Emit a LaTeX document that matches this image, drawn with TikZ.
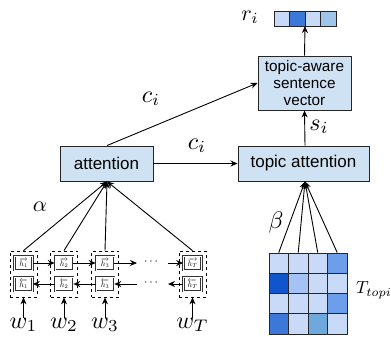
\documentclass[tikz,border=0pt]{standalone}
\usepackage{fontspec}
\newfontfamily\arial{Liberation Sans}
\usetikzlibrary{arrows.meta}
\definecolor{boxblue}{HTML}{CFE2F3}
\definecolor{cl}{HTML}{C9DAF8}
\definecolor{cm}{HTML}{6D9EEB}
\definecolor{cd}{HTML}{1155CC}
\definecolor{cml}{HTML}{A4C2F4}
\definecolor{cmd}{HTML}{3C78D8}
\definecolor{cteal}{HTML}{6FA8DC}
\definecolor{cv}{HTML}{9FC5E8}
\newcommand{\scm}[2][2.4]{\scalebox{#1}{$#2$}}
\begin{document}
\begin{tikzpicture}[x=1pt,y=-1pt,
  box/.style={draw=black!85, fill=boxblue, line width=0.9pt, inner sep=0pt, align=center},
  hbox/.style={draw=black!80, double=white, double distance=0.9pt, line width=0.6pt, minimum width=18pt, minimum height=14pt, inner sep=0pt},
  dbox/.style={draw=black, dashed, line width=0.8pt, minimum width=27pt, minimum height=46pt, inner sep=0pt},
  arr/.style={-{Stealth[length=7pt,width=6pt]}, line width=0.9pt},
  lab/.style={inner sep=0pt},
  cell/.style={draw=black!85, line width=0.8pt, minimum width=19.5pt, minimum height=20.25pt, inner sep=0pt},
  vcell/.style={draw=black!85, line width=0.8pt, minimum width=15.5pt, minimum height=15pt, inner sep=0pt}
]
\useasboundingbox (0,0) rectangle (391,337);

% main boxes
\node[box, minimum width=93pt, minimum height=35pt, font=\arial\fontsize{17}{17}\selectfont] (att) at (106.5,163.5) {attention};
\node[box, minimum width=131pt, minimum height=35pt, font=\arial\fontsize{17}{17}\selectfont] (tatt) at (303.5,163.5) {topic attention};
\node[box, minimum width=93pt, minimum height=54pt, font=\arial\fontsize{15.3}{16.7}\selectfont] (tasv) at (304.5,83) {topic-aware\\sentence\\vector};

% r_i vector
\node[vcell, fill=cl] (v1) at (281.75,18.5) {};
\node[vcell, fill=cmd] (v2) at (297.25,18.5) {};
\node[vcell, fill=cl] (v3) at (312.75,18.5) {};
\node[vcell, fill=cv] (v4) at (328.25,18.5) {};
\node[lab] (ri) at (250,17) {\scm[2.2]{r_i}};
\coordinate (vb) at (305,26);

% matrix
\foreach \r/\ca/\cb/\cc/\cd in {1/cl/cl/cl/cm, 2/cd/cml/cl/cl, 3/cl/cl/cl/cm, 4/cmd/cl/cteal/cl}{
  \node[cell, fill=\ca] (m\r1) at (278.75, {253+10.125+(\r-1)*20.25}) {};
  \node[cell, fill=\cb] (m\r2) at (298.25, {253+10.125+(\r-1)*20.25}) {};
  \node[cell, fill=\cc] (m\r3) at (317.75, {253+10.125+(\r-1)*20.25}) {};
  \node[cell, fill=\cd] (m\r4) at (337.25, {253+10.125+(\r-1)*20.25}) {};
}
\node[lab, anchor=west] (T) at (356,290) {\scm[1.75]{T_{topic}}};

% BiRNN boxes
\foreach \i/\x/\s in {1/23.5/1, 2/64/2, 3/105/3, 4/192.5/T}{
  \node[dbox] (d\i) at (\x,274) {};
  \node[hbox] (f\i) at (\x,263) {\scm[0.8]{\overrightarrow{h_\s}}};
  \node[hbox] (b\i) at (\x,284) {\scm[0.8]{\overleftarrow{h_\s}}};
  \node[lab] (w\i) at (\x,325) {\scm{w_\s}};
  \draw[arr] (w\i.north) -- (d\i.south);
  \draw[arr] (d\i.north) -- ([xshift=0.5pt]att.south);
}
\draw[arr] (f1) -- (f2);
\draw[arr] (f2) -- (f3);
\draw[arr] (b2) -- (b1);
\draw[arr] (b3) -- (b2);
\coordinate (fe) at (137,263);
\coordinate (fs) at (168,263);
\coordinate (be) at (137,284);
\coordinate (bs) at (168,284);
\draw[arr] (f3) -- (fe);
\draw[arr] (fs) -- (f4);
\draw[arr] (be) -- (b3);
\draw[arr] (b4) -- (bs);
\node[lab] (dt) at (151,262) {\scm[1.2]{\cdots}};
\node[lab] (db) at (151,283) {\scm[1.2]{\cdots}};

% beta lines
\foreach \j in {1,2,3,4}{
  \draw[arr] (m1\j.north) -- ([xshift=1.5pt]tatt.south);
}

% connections
\draw[arr] (att.east) -- (tatt.west);
\draw[arr] ([xshift=0.5pt]att.north) -- (tasv.west);
\draw[arr] ([xshift=1.5pt]tatt.north) -- (tasv.south);
\draw[arr] (tasv.north) -- (vb);

% labels
\node[lab] (ci1) at (151,99) {\scm{c_i}};
\node[lab] (ci2) at (197,146) {\scm{c_i}};
\node[lab] (al) at (40,207) {\scm[2.2]{\alpha}};
\node[lab] (bt) at (276,222) {\scm{\beta}};
\node[lab] (si) at (319,127) {\scm{s_i}};
\end{tikzpicture}
\end{document}
